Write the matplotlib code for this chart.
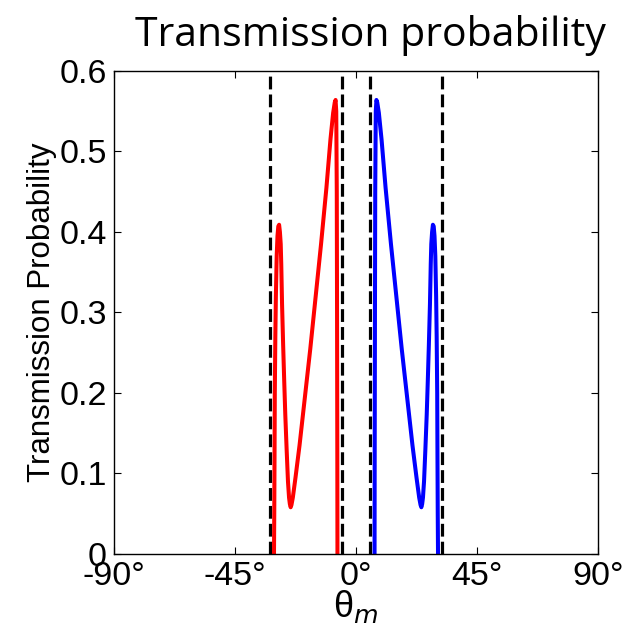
import matplotlib
matplotlib.use("Agg")
import matplotlib.pyplot as plt

# Transmission probability vs. incidence angle (degrees)
red_theta = [-30.5, -30.4, -30.3, -30.2, -30.0, -29.8, -29.5, -29.2, -28.9, -28.6,
             -28.3, -28.0, -27.8, -27.5, -27.1, -26.7, -26.3, -25.8, -25.3, -24.9,
             -24.6, -24.3, -24.0, -23.5, -22.5, -21.0, -19.0, -17.0, -15.0, -13.0,
             -11.0, -9.5, -8.5, -7.9, -7.6, -7.35, -7.15, -7.05, -6.95, -6.9]
red_prob = [0.0, 0.05, 0.12, 0.20, 0.27, 0.32, 0.37, 0.395, 0.407, 0.409,
            0.40, 0.385, 0.36, 0.31, 0.26, 0.215, 0.173, 0.13, 0.090, 0.070,
            0.062, 0.058, 0.061, 0.070, 0.095, 0.135, 0.195, 0.255, 0.320, 0.385,
            0.455, 0.515, 0.548, 0.561, 0.564, 0.55, 0.45, 0.30, 0.12, 0.0]

blue_theta = [6.9, 6.95, 7.05, 7.15, 7.35, 7.6, 7.9, 8.5, 9.5, 11.0,
              13.0, 15.0, 17.0, 19.0, 21.0, 22.5, 23.5, 24.0, 24.3, 24.6,
              24.9, 25.3, 25.8, 26.3, 26.7, 27.1, 27.5, 27.8, 28.0, 28.3,
              28.6, 28.9, 29.2, 29.5, 29.8, 30.0, 30.2, 30.3, 30.4, 30.5]
blue_prob = [0.0, 0.12, 0.30, 0.45, 0.55, 0.564, 0.561, 0.548, 0.515, 0.455,
             0.385, 0.320, 0.255, 0.195, 0.135, 0.095, 0.070, 0.061, 0.058, 0.062,
             0.070, 0.090, 0.13, 0.173, 0.215, 0.26, 0.31, 0.36, 0.385, 0.40,
             0.409, 0.407, 0.395, 0.37, 0.32, 0.27, 0.20, 0.12, 0.05, 0.0]

# Critical angles marked with dashed lines
critical_angles = [-31.8, -5.2, 5.2, 31.8]

x_ticks = [-90, -45, 0, 45, 90]
x_tick_labels = ["-90°", "-45°", "0°", "45°", "90°"]
y_ticks = [0, 0.1, 0.2, 0.3, 0.4, 0.5, 0.6]
y_tick_labels = ["0", "0.1", "0.2", "0.3", "0.4", "0.5", "0.6"]

fig = plt.figure(figsize=(6.38, 6.35), dpi=100)
ax = fig.add_axes([0.1787, 0.1276, 0.7586, 0.7606])

for a in critical_angles:
    ax.axvline(a, color="black", lw=2.3, dashes=(4.0, 1.6), zorder=1)

ax.plot(red_theta, red_prob, color="#ff0000", lw=2.9, zorder=2)
ax.plot(blue_theta, blue_prob, color="#0000ff", lw=2.9, zorder=2)

ax.set_xlim(-90, 90)
ax.set_ylim(0, 0.6)
ax.set_xticks(x_ticks)
ax.set_xticklabels(x_tick_labels)
ax.set_yticks(y_ticks)
ax.set_yticklabels(y_tick_labels)

ax.tick_params(direction="in", length=5, width=0.8, top=True, right=True,
               labelsize=24.5, pad=5)
for lab in ax.get_xticklabels() + ax.get_yticklabels():
    lab.set_family("Liberation Sans")
for s in ax.spines.values():
    s.set_linewidth(1.0)

ax.set_ylabel("Transmission Probability", fontsize=22.5, family="Liberation Sans",
              labelpad=2)
ax.set_xlabel(r"$\mathregular{\theta}_{m}$", fontsize=26, family="Liberation Sans",
              labelpad=-3)
ax.set_title("Transmission probability", fontsize=29.5, family="Open Sans",
             pad=18, x=0.53)

fig.savefig("out.png", dpi=100)
